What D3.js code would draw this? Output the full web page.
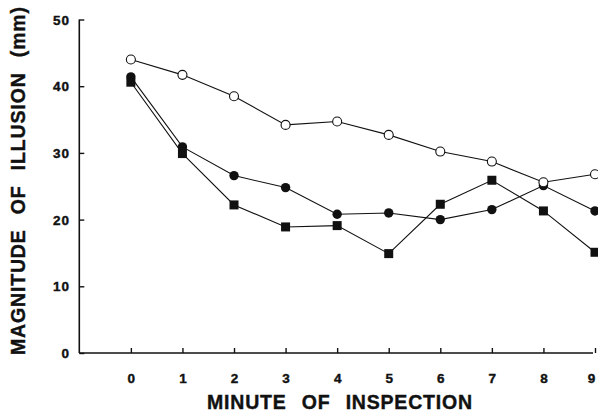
<!DOCTYPE html>
<html>
<head>
<meta charset="utf-8">
<script src="https://cdnjs.cloudflare.com/ajax/libs/d3/7.8.5/d3.min.js"></script>
<style>
  body { margin: 0; background: #fff; }
  svg { display: block; }
  .tick-label { font-family: "Liberation Sans", Arial, sans-serif; font-weight: bold; font-size: 13.5px; fill: #111; stroke: #111; stroke-width: 0.4px; letter-spacing: 1px; }
  .axes_label { font-family: "Liberation Sans", Arial, sans-serif; font-weight: bold; font-size: 19.5px; fill: #111; stroke: #111; stroke-width: 0.4px; word-spacing: 9px; }
</style>
</head>
<body>
<svg id="graph" width="598" height="412"></svg>
<script>
/*******************************************************************************************/
// Data

var minutes = [0, 1, 2, 3, 4, 5, 6, 7, 8, 9];
var openCircles   = [44.0, 41.7, 38.5, 34.2, 34.7, 32.7, 30.2, 28.7, 25.6, 26.8];
var filledCircles = [41.4, 30.9, 26.6, 24.8, 20.8, 21.0, 20.0, 21.5, 25.1, 21.3];
var filledSquares = [40.6, 29.9, 22.2, 18.9, 19.1, 14.9, 22.3, 25.9, 21.3, 15.1];
var yTicks = [0, 10, 20, 30, 40, 50];

/*******************************************************************************************/
// Scales

var svg = d3.select('#graph');
var xScale = d3.scaleLinear().domain([-1, 9]).range([79.3, 595]);
var yScale = d3.scaleLinear().domain([0, 50]).range([353, 19.5]);

var lineGen = d3.line().x(function(d){ return xScale(d.x) }).y(function(d){ return yScale(d.y) });
function pts(arr){ return arr.map(function(v, i){ return { x: minutes[i], y: v } }) }

/*******************************************************************************************/
// Axes

var xAxis = svg.append('g').attr('transform', 'translate(0,' + yScale(0) + ')')
  .call(d3.axisTop(xScale).tickValues(minutes).tickSize(5).tickFormat(''));
xAxis.select('.domain').attr('d', 'M' + xScale(-1) + ',0H593').attr('stroke', '#111').attr('stroke-width', 1.6);
xAxis.selectAll('.tick line').attr('stroke', '#111').attr('stroke-width', 1.4);

var yAxis = svg.append('g').attr('transform', 'translate(' + xScale(-1) + ',0)')
  .call(d3.axisRight(yScale).tickValues(yTicks).tickSize(5).tickFormat(''));
yAxis.select('.domain').attr('d', 'M0,' + yScale(50) + 'V' + yScale(0)).attr('stroke', '#111').attr('stroke-width', 1.6);
yAxis.selectAll('.tick line').attr('stroke', '#111').attr('stroke-width', 1.4);

svg.append('g').selectAll('text').data(yTicks).enter().append('text')
  .attr('class', 'tick-label')
  .attr('x', 70).attr('y', function(d){ return yScale(d) + 5 })
  .attr('text-anchor', 'end')
  .text(function(d){ return d });

svg.append('g').selectAll('text').data(minutes).enter().append('text')
  .attr('class', 'tick-label')
  .attr('x', function(d){ return Math.min(xScale(d) + 1, 592) }).attr('y', 383)
  .attr('text-anchor', 'middle')
  .text(function(d){ return d });

svg.append('text').attr('class', 'axes_label')
  .attr('x', 207).attr('y', 409)
  .attr('textLength', 265).attr('lengthAdjust', 'spacing')
  .text('MINUTE OF INSPECTION');

svg.append('text').attr('class', 'axes_label')
  .attr('transform', 'translate(25,355) rotate(-90)')
  .attr('textLength', 348).attr('lengthAdjust', 'spacing')
  .text('MAGNITUDE OF ILLUSION (mm)');

/*******************************************************************************************/
// Series

[openCircles, filledCircles, filledSquares].forEach(function(s){
  svg.append('path').attr('d', lineGen(pts(s)))
    .attr('fill', 'none').attr('stroke', '#111').attr('stroke-width', 1.1);
});

svg.append('g').selectAll('rect').data(pts(filledSquares)).enter().append('rect')
  .attr('x', function(d){ return xScale(d.x) - 4.5 }).attr('y', function(d){ return yScale(d.y) - 4.5 })
  .attr('width', 9).attr('height', 9).attr('fill', '#111');

svg.append('g').selectAll('circle').data(pts(filledCircles)).enter().append('circle')
  .attr('cx', function(d){ return xScale(d.x) }).attr('cy', function(d){ return yScale(d.y) })
  .attr('r', 4.7).attr('fill', '#111');

svg.append('g').selectAll('circle').data(pts(openCircles)).enter().append('circle')
  .attr('cx', function(d){ return xScale(d.x) }).attr('cy', function(d){ return yScale(d.y) })
  .attr('r', 4.5).attr('fill', '#fff').attr('stroke', '#111').attr('stroke-width', 1.1);
</script>
</body>
</html>
